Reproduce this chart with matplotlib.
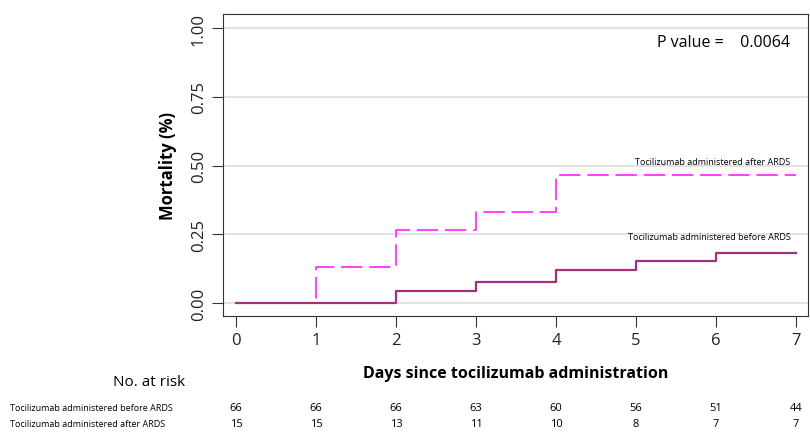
import matplotlib.pyplot as plt

days = [0, 1, 2, 3, 4, 5, 6, 7]
before_mort = [0, 0, 0.045, 0.076, 0.121, 0.152, 0.182, 0.182]
after_mort = [0, 0.133, 0.267, 0.333, 0.467, 0.467, 0.467, 0.467]
before_risk = [66, 66, 66, 63, 60, 56, 51, 44]
after_risk = [15, 15, 13, 11, 10, 8, 7, 7]
label_before = "Tocilizumab administered before ARDS"
label_after = "Tocilizumab administered after ARDS"

plt.rcParams['font.family'] = ['Open Sans', 'DejaVu Sans']
fig = plt.figure(figsize=(8.1, 4.35), dpi=100)
ax = fig.add_axes([0.275, 0.271, 0.7225, 0.6945])

for y in [0, 0.25, 0.5, 0.75, 1.0]:
    ax.axhline(y, color='#dddddd', lw=1.2, zorder=0)
ax.step(days, after_mort, where='post', color='#ff40ff', lw=1.4, ls=(0, (11, 3.5)))
ax.step(days, before_mort, where='post', color='#a3307f', lw=1.6)

ax.set_xlim(-0.166, 7.15)
ax.set_ylim(-0.047, 1.051)
ax.set_xticks(days)
ax.set_yticks([0, 0.25, 0.5, 0.75, 1.0])
ax.set_yticklabels(['0.00', '0.25', '0.50', '0.75', '1.00'], rotation=90, va='center')
ax.tick_params(labelsize=12, length=8, colors='#333333', labelcolor='#222222')
ax.set_ylabel("Mortality (%)", fontsize=12, fontweight='bold', labelpad=10)
ax.set_xlabel("Days since tocilizumab administration", fontsize=11.5, fontweight='bold', labelpad=12)
for s in ax.spines.values():
    s.set_color('#333333')

ax.text(6.93, 0.95, "P value =    0.0064", ha='right', va='center', fontsize=11.5)
ax.text(6.93, 0.50, label_after, ha='right', va='bottom', fontsize=6.5)
ax.text(6.93, 0.225, label_before, ha='right', va='bottom', fontsize=6.5)

fig.text(0.14, 0.12, "No. at risk", fontsize=11, va='center')
for i, d in enumerate(days):
    fx = (236 + 80 * d) / 810
    fig.text(fx, 0.06, str(before_risk[i]), ha='center', va='center', fontsize=8)
    fig.text(fx, 0.023, str(after_risk[i]), ha='center', va='center', fontsize=8)
fig.text(0.012, 0.06, label_before, va='center', fontsize=6.5)
fig.text(0.012, 0.023, label_after, va='center', fontsize=6.5)

fig.savefig("out.png", dpi=100)
